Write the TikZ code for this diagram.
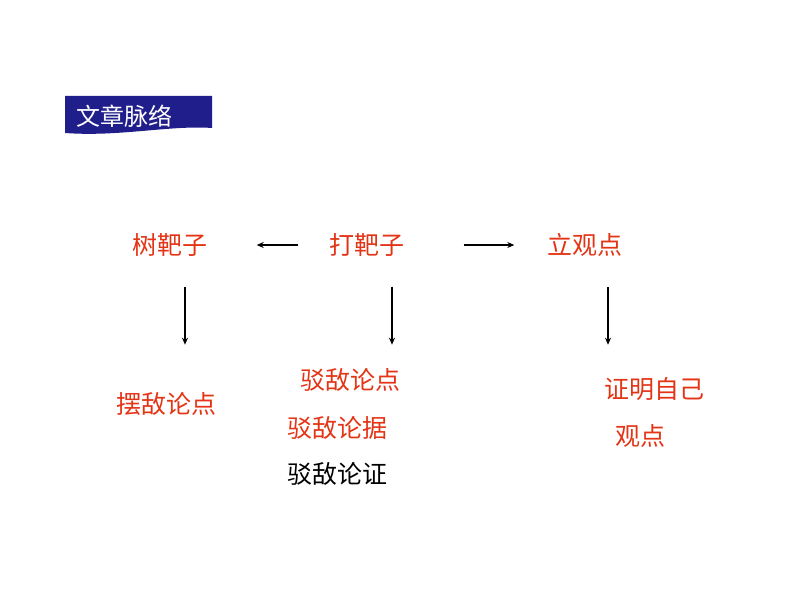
\documentclass[tikz,border=0pt]{standalone}
\usepackage{fontspec}
\setmainfont{Noto Sans CJK SC}
\usetikzlibrary{arrows.meta}
\definecolor{titleblue}{RGB}{32,30,138}
\definecolor{pointred}{RGB}{228,52,22}

\begin{document}
\begin{tikzpicture}[x=1pt,y=-1pt,
    label/.style={
      % The text:
      inner sep=0pt,text=pointred,
      font=\fontsize{25}{30}\selectfont},
    arr/.style={line width=2.4pt,-{Stealth[length=7pt,width=6pt]}}]
    \useasboundingbox (0,0) rectangle (794,596);
    % title
    \fill [titleblue] (65,96) -- (212,96) -- (212,128)
      .. controls (170,125) and (120,137) .. (65,133) -- cycle;
    \node [inner sep=0pt,text=white,font=\fontsize{24}{28}\selectfont] (title) at (124,116) {文章脉络};
    % top row
    \node [label] (shubazi) at (170,245) {树靶子};
    \node [label] (dabazi) at (367,245) {打靶子};
    \node [label] (liguandian) at (585,245) {立观点};
    \draw [arr] ([xshift=-31pt]dabazi.west) -- ([xshift=49pt]shubazi.east);
    \draw [arr] ([xshift=59pt]dabazi.east) -- ([xshift=-33pt]liguandian.west);
    % bottom row
    \node [label] (baidi) at (166,404) {摆敌论点};
    \node [label] (bodian) at (350,380) {驳敌论点};
    \node [label] (boju) at (337,428) {驳敌论据};
    \node [label,text=black] (bozheng) at (337,474) {驳敌论证};
    \node [label] (zhengming) at (654,389) {证明自己};
    \node [label] (guandian) at (640,436) {观点};
    \draw [arr] ([xshift=15pt,yshift=-30pt]shubazi.south) -- ++(0,58);
    \draw [arr] ([xshift=25pt,yshift=-30pt]dabazi.south) -- ++(0,58);
    \draw [arr] ([xshift=23pt,yshift=-30pt]liguandian.south) -- ++(0,58);
  \end{tikzpicture}
\end{document}
